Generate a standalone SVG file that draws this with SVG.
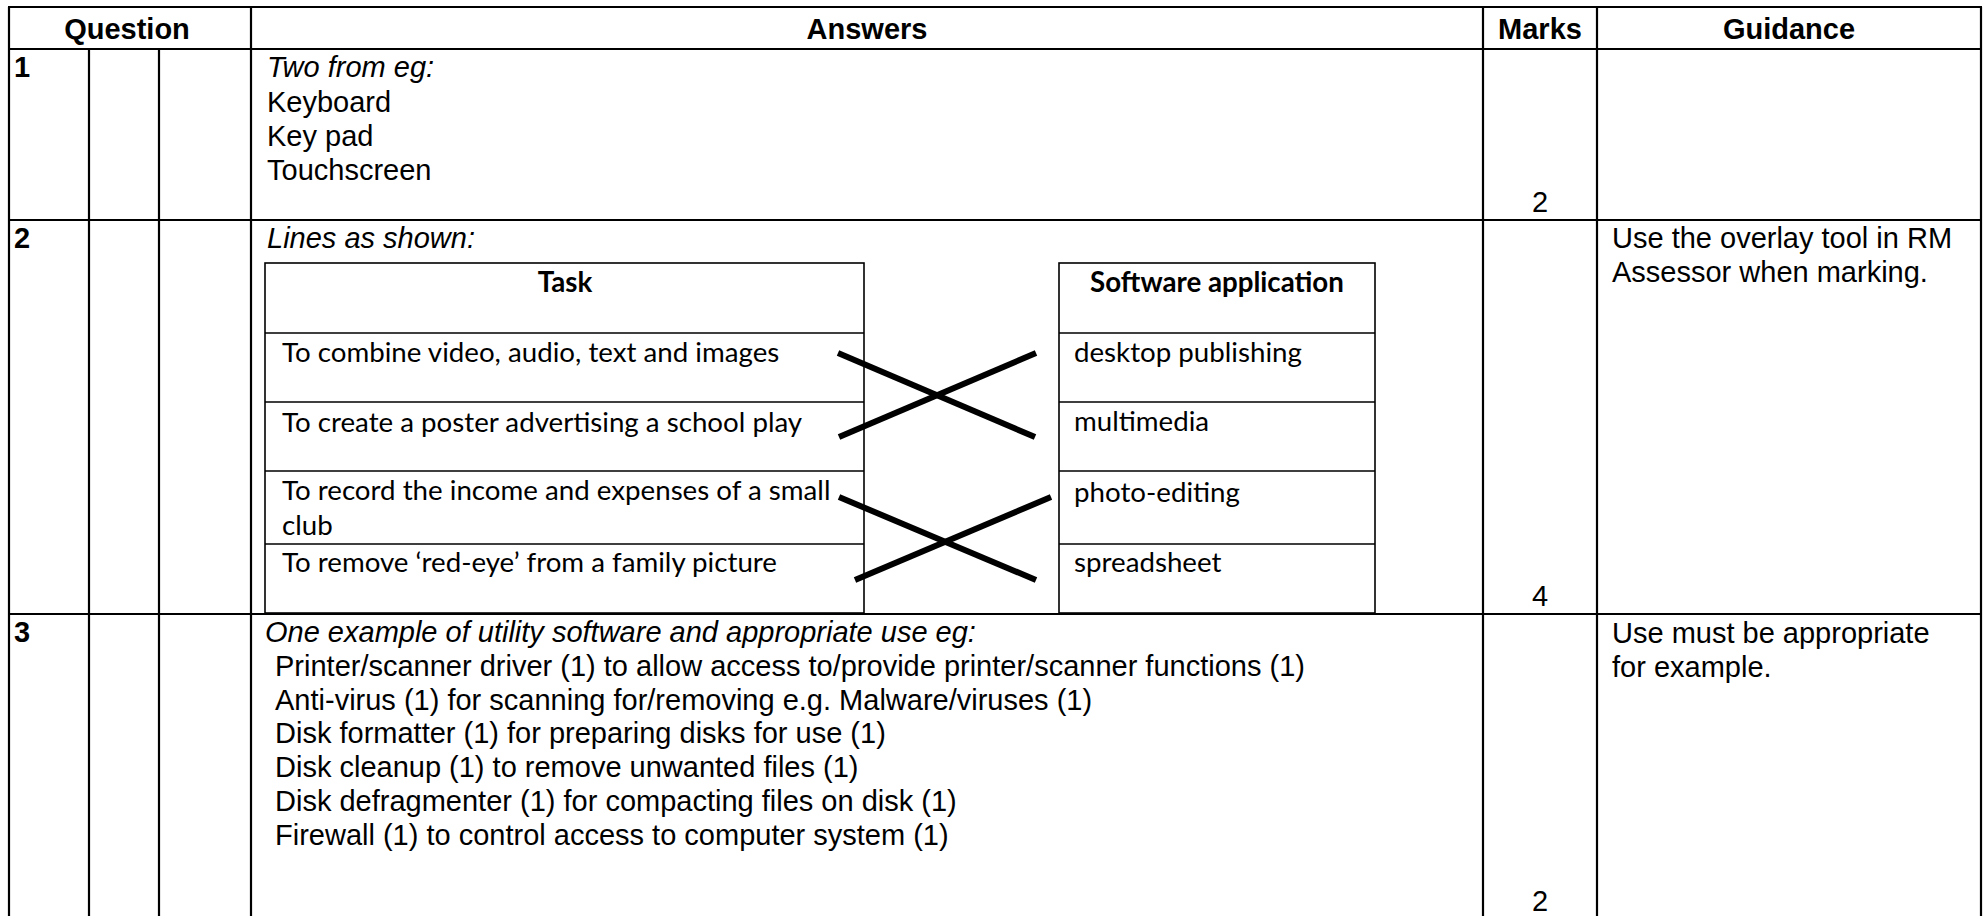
<svg xmlns="http://www.w3.org/2000/svg" width="1984" height="916" viewBox="0 0 1984 916">
<style>
.t{font-family:"Liberation Sans",Arial,sans-serif;font-size:29px;fill:#000}
.b{font-weight:bold}
.i{font-style:italic}
.c{text-anchor:middle}
.cal{font-family:Lato,"Liberation Sans",sans-serif;font-size:27.7px;fill:#000}
.grid{stroke:#000;stroke-width:2.2;fill:none}
.thin{stroke:#000;stroke-width:1.6;fill:none}
.cross{stroke:#000;stroke-width:6;fill:none}
</style>
<rect width="1984" height="916" fill="#fff"/>
<g id="table-grid">
<path class="grid" d="M9 7V916M89 49V916M159 49V916M251 7V916M1483 7V916M1597 7V916M1981 7V916"/>
<path class="grid" d="M8 7H1982M8 49H1982M8 220H1982M8 614H1982"/>
</g>
<g id="header">
<text class="t b c" x="127" y="39">Question</text>
<text class="t b c" x="867" y="39">Answers</text>
<text class="t b c" x="1540" y="39">Marks</text>
<text class="t b c" x="1789" y="39">Guidance</text>
</g>
<g id="row1">
<text class="t b" x="14" y="77">1</text>
<text class="t i" x="267" y="77">Two from eg:</text>
<text class="t" x="267" y="112">Keyboard</text>
<text class="t" x="267" y="146">Key pad</text>
<text class="t" x="267" y="180">Touchscreen</text>
<text class="t c" x="1540" y="212">2</text>
</g>
<g id="row2">
<text class="t b" x="14" y="248">2</text>
<text class="t i" x="267" y="248">Lines as shown:</text>
<text class="t c" x="1540" y="606">4</text>
<text class="t" x="1612" y="248">Use the overlay tool in RM</text>
<text class="t" x="1612" y="282">Assessor when marking.</text>
</g>
<g id="task-table">
<rect class="thin" x="265" y="263" width="599" height="350"/>
<path class="thin" d="M265 333H864M265 402H864M265 471H864M265 544H864"/>
<text class="cal b c" x="565" y="292">Task</text>
<text class="cal" x="282" y="362">To combine video, audio, text and images</text>
<text class="cal" x="282" y="432">To create a poster advertising a school play</text>
<text class="cal" x="282" y="500">To record the income and expenses of a small</text>
<text class="cal" x="282" y="535">club</text>
<text class="cal" x="282" y="572">To remove ‘red-eye’ from a family picture</text>
</g>
<g id="software-table">
<rect class="thin" x="1059" y="263" width="316" height="350"/>
<path class="thin" d="M1059 333H1375M1059 402H1375M1059 471H1375M1059 544H1375"/>
<text class="cal b c" x="1217" y="292">Software application</text>
<text class="cal" x="1074" y="362">desktop publishing</text>
<text class="cal" x="1074" y="431">multimedia</text>
<text class="cal" x="1074" y="502">photo-editing</text>
<text class="cal" x="1074" y="572">spreadsheet</text>
</g>
<g id="connectors">
<line class="cross" x1="838" y1="353" x2="1035" y2="437"/>
<line class="cross" x1="839" y1="437" x2="1036" y2="353"/>
<line class="cross" x1="839" y1="497" x2="1036" y2="580"/>
<line class="cross" x1="855" y1="580" x2="1051" y2="497"/>
</g>
<g id="row3">
<text class="t b" x="14" y="642">3</text>
<text class="t i" x="265" y="642">One example of utility software and appropriate use eg:</text>
<text class="t" x="275" y="676">Printer/scanner driver (1) to allow access to/provide printer/scanner functions (1)</text>
<text class="t" x="275" y="710">Anti-virus (1) for scanning for/removing e.g. Malware/viruses (1)</text>
<text class="t" x="275" y="743">Disk formatter (1) for preparing disks for use (1)</text>
<text class="t" x="275" y="777">Disk cleanup (1) to remove unwanted files (1)</text>
<text class="t" x="275" y="811">Disk defragmenter (1) for compacting files on disk (1)</text>
<text class="t" x="275" y="845">Firewall (1) to control access to computer system (1)</text>
<text class="t c" x="1540" y="911">2</text>
<text class="t" x="1612" y="643">Use must be appropriate</text>
<text class="t" x="1612" y="677">for example.</text>
</g>
</svg>
